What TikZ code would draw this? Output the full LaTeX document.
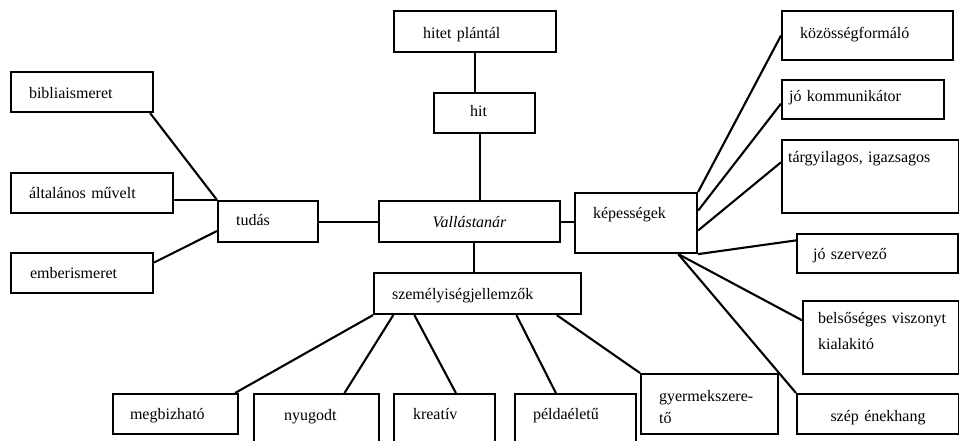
\documentclass[tikz,border=0pt]{standalone}
\usepackage{fontspec}
\setmainfont{Liberation Serif}
\usetikzlibrary{calc}

% cell={text width}{side padding}{baseline from top}{space below baseline}{alignment}
\tikzset{
  cell/.style n args={5}{draw, line width=2.1pt, rectangle, anchor=north west,
    inner ysep=0pt, inner xsep=#2pt, text width=#1pt,
    text height=#3pt, text depth=#4pt, align=#5,
    font=\fontsize{16}{24}\selectfont},
  link/.style={line width=2.1pt},
}

\begin{document}
\begin{tikzpicture}[x=1pt,y=-1pt]
\useasboundingbox (0,0) rectangle (959,441);
\fill[white] (0,0) rectangle (959,441);
\clip (0,0) rectangle (959,441);

% centre
\node[cell={161}{10}{26}{15}{center}] (vt) at (378,200) {\itshape Vallástanár};

% faith branch
\node[cell={104}{29}{27}{14}{left}] (hp) at (393,10) {\mbox{hitet plántál}};
\node[cell={29}{36}{23}{17}{left}] (hit) at (433,92) {hit};

% knowledge branch
\node[cell={64}{18}{24}{17}{left}] (tud) at (217,200) {tudás};
\node[cell={106}{18}{26}{14}{left}] (bib) at (10,71) {bibliaismeret};
\node[cell={126}{18}{25}{15}{left}] (alt) at (10,172) {\mbox{általános művelt}};
\node[cell={104}{19}{25}{15}{left}] (emb) at (10,252) {emberismeret};

% skills branch
\node[cell={86}{18}{25}{35}{left}] (kep) at (574,192) {képességek};
\node[cell={135}{18}{27}{22}{left}] (koz) at (781,10) {közösségformáló};
\node[cell={148}{7}{21}{18}{left}] (kom) at (781,79) {\mbox{jó kommunikátor}};
\node[cell={165}{6}{22}{51}{left}] (tgy) at (781,139) {\mbox{tárgyilagos, igazsagos}};
\node[cell={129}{16}{25}{14}{left}] (szv) at (796,233) {\mbox{jó szervező}};
\node[cell={126}{15}{22}{51}{left}, font=\fontsize{16}{26}\selectfont] (bel) at (802,300) {\mbox{belsőséges viszonyt}\\kialakitó};
\node[cell={142}{10}{27}{13}{center}] (ene) at (796,393) {\mbox{szép énekhang}};

% personality branch
\node[cell={171}{18}{26}{15}{left}] (szm) at (373,272) {személyiségjellemzők};
\node[cell={91}{17}{25}{15}{left}] (meg) at (112,393) {megbizható};
\node[cell={65}{30}{26}{34}{left}] (nyu) at (253,393) {nyugodt};
\node[cell={63}{19}{25}{35}{left}] (kre) at (393,393) {kreatív};
\node[cell={85}{18}{25}{35}{left}] (pel) at (514,393) {példaéletű};
\node[cell={101}{18}{27}{33}{left}, font=\fontsize{16}{22}\selectfont] (gye) at (640,373) {gyermekszere-\\tő};

% connectors: faith
\draw[link] (hp.south) -- (hp.south |- hit.north);
\draw[link] ([xshift=-4.5pt]hit.south) -- ([xshift=-4.5pt]hit.south |- vt.north);

% connectors: knowledge
\draw[link] (tud.east) -- (vt.west);
\draw[link] ([xshift=-4pt]bib.south east) -- (tud.north west);
\draw[link] (tud.north west -| alt.east) -- (tud.north west);
\draw[link] ($(emb.north east)!0.25!(emb.south east)$) -- ($(tud.north west)!0.72!(tud.south west)$);

% connectors: skills
\draw[link] (vt.east) -- (vt.east -| kep.west);
\draw[link] (kep.north east) -- (koz.west);
\draw[link] ($(kep.north east)!0.3!(kep.south east)$) -- ($(kom.north west)!0.6!(kom.south west)$);
\draw[link] ($(kep.north east)!0.62!(kep.south east)$) -- ($(tgy.north west)!0.31!(tgy.south west)$);
\draw[link] (kep.south east) -- ($(szv.north west)!0.18!(szv.south west)$);
\draw[link] ($(kep.south west)!0.84!(kep.south east)$) -- ($(bel.north west)!0.27!(bel.south west)$);
\draw[link] ($(kep.south west)!0.84!(kep.south east)$) -- (ene.north west);

% connectors: personality
\draw[link] ([xshift=4.5pt]vt.south) -- ([xshift=4.5pt]vt.south |- szm.north);
\draw[link] (szm.south west) -- ([xshift=-4pt]meg.north east);
\draw[link] ($(szm.south west)!0.097!(szm.south east)$) -- ($(nyu.north west)!0.72!(nyu.north east)$);
\draw[link] ($(szm.south west)!0.198!(szm.south east)$) -- ($(kre.north west)!0.61!(kre.north east)$);
\draw[link] ($(szm.south west)!0.686!(szm.south east)$) -- ($(pel.north west)!0.34!(pel.north east)$);
\draw[link] ($(szm.south west)!0.879!(szm.south east)$) -- (gye.north west);
\end{tikzpicture}
\end{document}
